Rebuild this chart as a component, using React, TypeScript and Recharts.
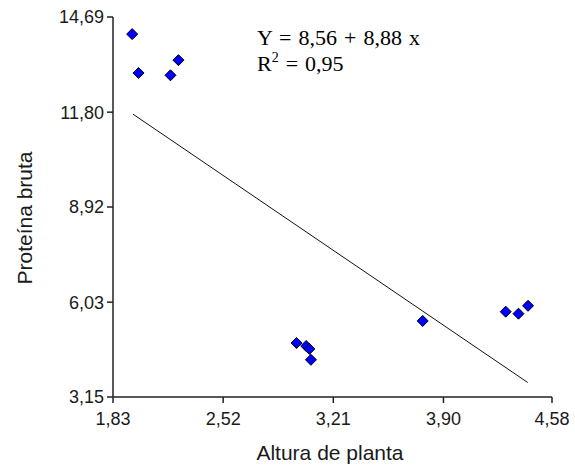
import React from "react";
import {
  ScatterChart,
  Scatter,
  XAxis,
  YAxis,
} from "recharts";

// alturas de planta (x) e proteína bruta (y)
const altura = [1.95, 1.99, 2.19, 2.24, 2.98, 3.04, 3.06, 3.07, 3.77, 4.29, 4.37, 4.43];
const proteina = [14.17, 12.99, 12.92, 13.38, 4.79, 4.7, 4.61, 4.28, 5.46, 5.74, 5.68, 5.92];

// reta ajustada
const retaX = [1.955, 4.428];
const retaY = [11.74, 3.59];

const xTicks = [1.83, 2.52, 3.21, 3.9, 4.58];
const yTicks = [3.15, 6.03, 8.92, 11.8, 14.69];

const pontos = altura.map((x, i) => ({ x, y: proteina[i] }));
const reta = retaX.map((x, i) => ({ x, y: retaY[i] }));

const fmt = (v: number) => v.toFixed(2).replace(".", ",");

const FONT = "'Liberation Sans', Arial, sans-serif";
const SERIF = "'Liberation Serif', 'Times New Roman', serif";

const Diamond = (props: any) => {
  const { cx, cy } = props;
  const r = 5.5;
  return (
    <polygon
      points={`${cx},${cy - r} ${cx + r},${cy} ${cx},${cy + r} ${cx - r},${cy}`}
      fill="#0000ff"
      stroke="#000"
      strokeWidth={1}
    />
  );
};

const YTitle = () => (
  <text
    x={32}
    y={218}
    transform="rotate(-90 32 218)"
    textAnchor="middle"
    fontFamily={FONT}
    fontSize={21}
    fill="#1a1a1a"
  >
    Proteína bruta
  </text>
);

const XTitle = () => (
  <text
    x={330}
    y={460}
    textAnchor="middle"
    fontFamily={FONT}
    fontSize={21}
    fill="#1a1a1a"
  >
    Altura de planta
  </text>
);

export default function App() {
  return (
    <div style={{ position: "absolute", left: 0, top: 0, background: "#fff" }}>
      <ScatterChart
        width={575}
        height={466}
        margin={{ top: 17, right: 23, bottom: 0, left: 0 }}
      >
        <XAxis
          type="number"
          dataKey="x"
          domain={[1.83, 4.58]}
          ticks={xTicks}
          tickFormatter={fmt}
          tickSize={6}
          tickMargin={9}
          stroke="#222"
          strokeWidth={1.5}
          tick={{ fill: "#1a1a1a", fontSize: 18, fontFamily: FONT }}
          height={69}
          label={<XTitle />}
        />
        <YAxis
          type="number"
          dataKey="y"
          domain={[3.15, 14.69]}
          ticks={yTicks}
          tickFormatter={fmt}
          tickSize={6}
          tickMargin={3}
          stroke="#222"
          strokeWidth={1.5}
          width={113}
          tick={{ fill: "#1a1a1a", fontSize: 18, fontFamily: FONT }}
          label={<YTitle />}
        />
        <Scatter
          data={reta}
          line={{ stroke: "#111", strokeWidth: 1 }}
          shape={() => null}
          isAnimationActive={false}
        />
        <Scatter data={pontos} shape={<Diamond />} isAnimationActive={false} />
        <text x={257} y={45} fontFamily={SERIF} fontSize={22} fill="#000" wordSpacing={1.5}>
          Y = 8,56 + 8,88 x
        </text>
        <text x={257} y={71} fontFamily={SERIF} fontSize={22} fill="#000" wordSpacing={1.5}>
          R<tspan dy={-9} fontSize={14}>2</tspan>
          <tspan dy={9}> = 0,95</tspan>
        </text>
      </ScatterChart>
    </div>
  );
}
